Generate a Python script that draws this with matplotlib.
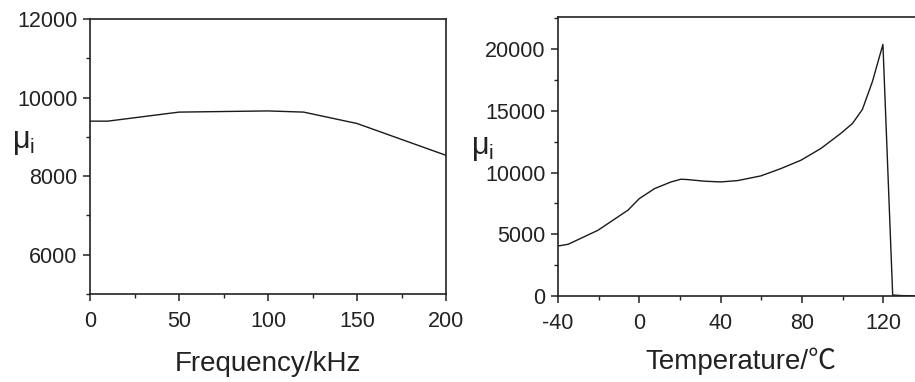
import numpy as np
import matplotlib.pyplot as plt
from matplotlib.ticker import MultipleLocator

# permeability vs frequency
freq_khz = [0, 10, 50, 100, 120, 150, 200]
mu_freq = [9400, 9400, 9630, 9660, 9630, 9340, 8530]

# permeability vs temperature
temp_c = [-40, -35, -20.4, -5.6, -4, 0, 7.5, 15.6, 20.5, 23.8, 32, 40, 48.4,
          59.8, 69.6, 79.5, 89.3, 99, 104.8, 109.7, 114.6, 119.8, 124.6, 129.3, 135]
mu_temp = [4050, 4190, 5320, 6950, 7220, 7890, 8700, 9240, 9460, 9430, 9300, 9240, 9350,
           9730, 10320, 11000, 11950, 13160, 13970, 15110, 17350, 20380, 80, 30, 20]

plt.rcParams['font.family'] = ['Liberation Sans', 'Noto Sans CJK SC', 'DejaVu Sans']
plt.rcParams['mathtext.fontset'] = 'custom'
plt.rcParams['mathtext.rm'] = 'Liberation Sans'
plt.rcParams['mathtext.it'] = 'Liberation Sans'
plt.rcParams['axes.unicode_minus'] = False

W, H = 915, 382
fig = plt.figure(figsize=(W / 100, H / 100), dpi=100)


def box(x0, x1, y0, y1):
    return [x0 / W, (H - y1) / H, (x1 - x0) / W, (y1 - y0) / H]


def style(ax):
    for s in ax.spines.values():
        s.set_linewidth(1.2)
        s.set_color('#222222')
    ax.tick_params(which='major', direction='out', length=5, width=1.1,
                   labelsize=15.5, colors='#222222', pad=4)
    ax.tick_params(which='minor', direction='out', length=3, width=1.0, colors='#222222')
    ax.tick_params(top=False, right=False, which='both')
    ax.tick_params(axis='x', which='major', pad=7)


ax1 = fig.add_axes(box(90, 446, 19, 294))
ax1.plot(freq_khz, mu_freq, color='#1a1a1a', linewidth=1.0)
ax1.set_xlim(0, 200)
ax1.set_ylim(5000, 12000)
ax1.xaxis.set_major_locator(MultipleLocator(50))
ax1.xaxis.set_minor_locator(MultipleLocator(25))
ax1.yaxis.set_minor_locator(MultipleLocator(1000))
ax1.set_yticks([6000, 8000, 10000, 12000])
style(ax1)
ax1.set_xlabel('Frequency/kHz', fontsize=20, labelpad=14, color='#222222')
fig.text(12 / W, 1 - 142 / H, r'$\mathregular{\mu_i}$', fontsize=22, va='center', ha='left',
         color='#222222')

ax2 = fig.add_axes(box(558, 924, 17, 296))
ax2.plot(temp_c, mu_temp, color='#1a1a1a', linewidth=1.0)
ax2.set_xlim(-40, 140)
ax2.set_ylim(0, 22600)
ax2.set_xticks([-40, 0, 40, 80, 120])
ax2.xaxis.set_minor_locator(MultipleLocator(20))
ax2.set_yticks([0, 5000, 10000, 15000, 20000])
ax2.yaxis.set_minor_locator(MultipleLocator(2500))
style(ax2)
ax2.set_xlabel('Temperature/℃', fontsize=20, labelpad=10, color='#222222')
fig.text(471 / W, 1 - 148 / H, r'$\mathregular{\mu_i}$', fontsize=22, va='center', ha='left',
         color='#222222')

plt.savefig('out.png', dpi=100)
